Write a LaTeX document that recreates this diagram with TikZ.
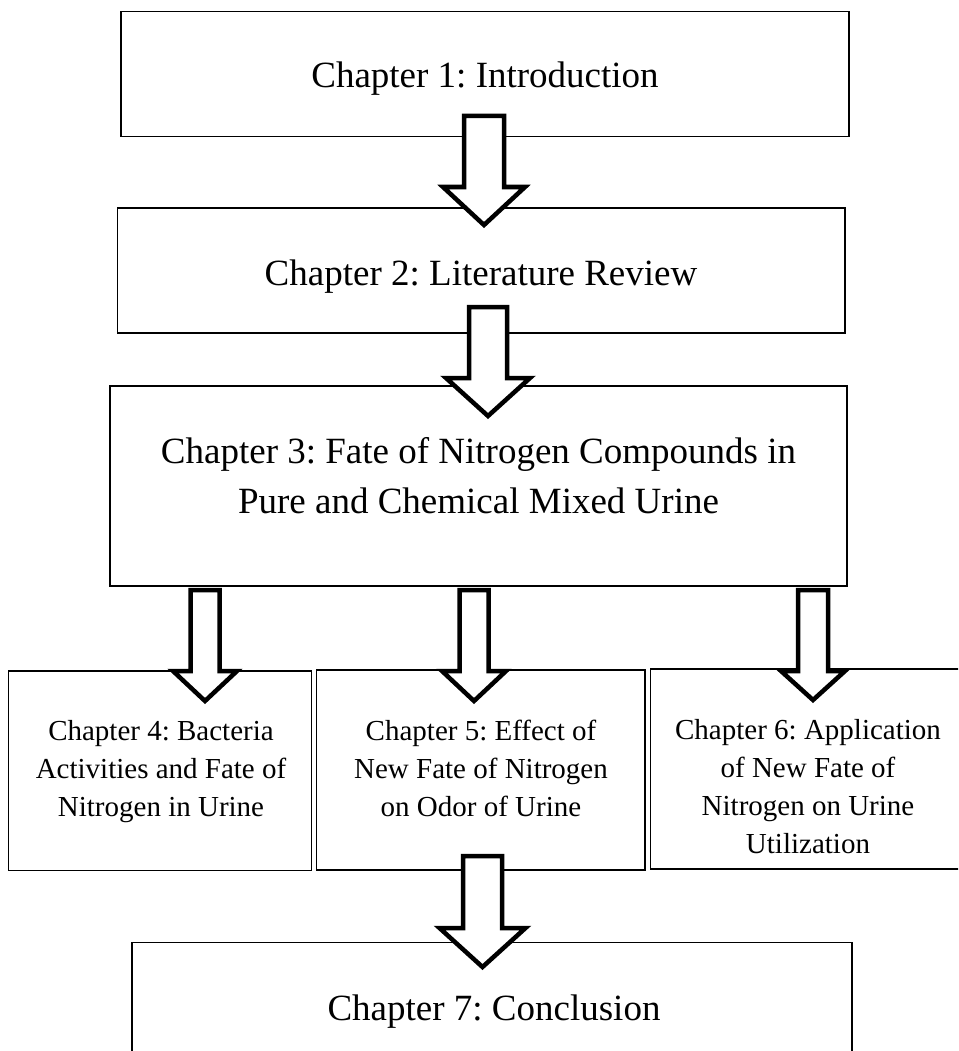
\documentclass[tikz,border=0pt]{standalone}
\usepackage{fontspec}
\setmainfont{Liberation Serif}
\frenchspacing
\tikzset{
  chbox/.style={draw=black, line width=1.5pt, fill=white, inner sep=0pt, rectangle},
  bigtxt/.style={font=\fontsize{37}{50}\selectfont, align=center, inner sep=0pt, anchor=base},
  smalltxt/.style={font=\fontsize{29}{38}\selectfont, align=center, inner sep=0pt, anchor=base},
  blockarrow/.style={draw=black, line width=4.5pt, fill=white, line join=miter, miter limit=10}
}
% block arrow: #1 centre x, #2 top, #3 head base, #4 tip, #5 shaft half width, #6 head half width
\newcommand\blockarr[6]{%
  \draw[blockarrow] ({#1-#5},#2) -- ({#1+#5},#2) -- ({#1+#5},#3) -- ({#1+#6},#3)
    -- (#1,#4) -- ({#1-#6},#3) -- ({#1-#5},#3) -- cycle;}
\begin{document}
\begin{tikzpicture}[x=1pt,y=-1pt]
\useasboundingbox (0,0) rectangle (958,1051);
\begin{scope}
\clip (0,0) rectangle (958,1051);
% boxes
\node[chbox, minimum width=728pt, minimum height=125pt] (b1) at (485,74.2) {};
\node[chbox, minimum width=727.3pt, minimum height=125pt] (b2) at (481.35,270.5) {};
\node[chbox, minimum width=737pt, minimum height=200pt] (b3) at (478.5,486) {};
\node[chbox, minimum width=303.1pt, minimum height=199.5pt] (b4) at (160.15,770.75) {};
\node[chbox, minimum width=328.3pt, minimum height=200pt] (b5) at (480.85,770) {};
\node[chbox, minimum width=311.3pt, minimum height=200pt] (b6) at (806.35,769) {};
\node[chbox, minimum width=720pt, minimum height=117.3pt] (b7) at (492,1001.35) {};
% texts
\node[bigtxt] (t1) at (485,88) {Chapter 1: Introduction};
\node[bigtxt] (t2) at (481,285) {Chapter 2: Literature Review};
\node[bigtxt] (t3a) at (478.5,463) {Chapter 3: Fate of Nitrogen Compounds in};
\node[bigtxt] (t3b) at (478.5,513) {Pure and Chemical Mixed Urine};
\node[smalltxt] (t4a) at (161,740) {Chapter 4: Bacteria};
\node[smalltxt] (t4b) at (161,778) {Activities and Fate of};
\node[smalltxt] (t4c) at (161,816) {Nitrogen in Urine};
\node[smalltxt] (t5a) at (481,740) {Chapter 5: Effect of};
\node[smalltxt] (t5b) at (481,778) {New Fate of Nitrogen};
\node[smalltxt] (t5c) at (481,816) {on Odor of Urine};
\node[smalltxt] (t6a) at (808,739) {Chapter 6: Application};
\node[smalltxt] (t6b) at (808,777) {of New Fate of};
\node[smalltxt] (t6c) at (808,815) {Nitrogen on Urine};
\node[smalltxt] (t6d) at (808,853) {Utilization};
\node[bigtxt] (t7) at (494,1020) {Chapter 7: Conclusion};
% arrows
\blockarr{484}{116}{187}{225}{20}{41}
\blockarr{488}{307}{378}{416}{19}{42}
\blockarr{205}{590}{671}{701}{14.5}{32}
\blockarr{474}{590}{671}{701}{14.5}{32}
\blockarr{813}{590}{671}{700}{15}{32}
\blockarr{482.5}{856}{928}{967}{19.5}{43}
\end{scope}
\end{tikzpicture}
\end{document}
